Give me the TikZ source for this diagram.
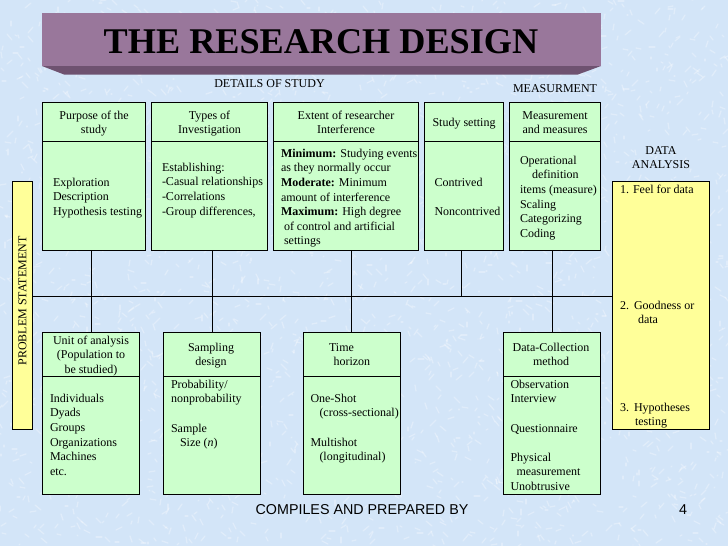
\documentclass[tikz,border=0pt]{standalone}
\usepackage{fontspec}
\setmainfont{Liberation Serif}
\newfontfamily\footfont{Liberation Sans}
\definecolor{bgblue}{HTML}{D3E5F8}
\definecolor{cellgreen}{HTML}{CCFFCC}
\definecolor{celly}{HTML}{FFFF99}
\definecolor{bannerc}{HTML}{99779B}
\definecolor{bannerd}{HTML}{6E5270}
\tikzset{
  cell/.style={draw=black,line width=1pt,fill=cellgreen,inner sep=0pt,outer sep=0pt,anchor=north west},
  ycell/.style={cell,fill=celly},
  wire/.style={draw=black,line width=1pt},
  bodytext/.style={inner sep=0pt,outer sep=0pt,anchor=north west,align=left,yshift=6pt,font=\fontsize{12}{14.6}\selectfont},
  headtext/.style={inner sep=0pt,outer sep=0pt,anchor=north,align=center,yshift=6pt,font=\fontsize{12}{14.6}\selectfont},
  captext/.style={inner sep=0pt,outer sep=0pt,font=\fontsize{12}{14}\selectfont},
  speck/.style={line width=1.3pt,white,opacity=0.3,line cap=round}
}
\begin{document}
\begin{tikzpicture}[x=1pt,y=-1pt]
\useasboundingbox (0,0) rectangle (728,546);
\fill[bgblue] (0,0) rectangle (728,546);
\pgfmathsetseed{4217}
\begin{scope}
\clip (0,0) rectangle (728,546);
\foreach \i in {1,...,2600}{
  \pgfmathsetmacro{\px}{random(0,728)}
  \pgfmathsetmacro{\py}{random(0,546)}
  \pgfmathsetmacro{\dx}{random(-6,6)}
  \pgfmathsetmacro{\dy}{random(-6,6)}
  \draw[speck] (\px,\py) -- ++(\dx,\dy);
}
\end{scope}
% banner
\fill[bannerd] (42,66) -- (64,74.5) -- (578,74.5) -- (601,66) -- cycle;
\node[fill=bannerc,inner sep=0pt,outer sep=0pt,anchor=north west,minimum width=559pt,minimum height=53pt] (banner) at (42,13) {};
\node[inner sep=0pt,font=\fontsize{36.2}{38}\selectfont\bfseries] (title) at (321,42) {THE RESEARCH DESIGN};
\node[captext] (details) at (269.5,84) {DETAILS OF STUDY};
\node[captext] (measur) at (555,89) {MEASURMENT};
% top row
\node[cell,minimum width=103pt,minimum height=38.5pt] (t1h) at (42.5,102.5) {};
\node[cell,minimum width=103pt,minimum height=109pt] (t1b) at (42.5,141) {};
\node[cell,minimum width=116pt,minimum height=38.5pt] (t2h) at (151.5,102.5) {};
\node[cell,minimum width=116pt,minimum height=109pt] (t2b) at (151.5,141) {};
\node[cell,minimum width=145pt,minimum height=38.5pt] (t3h) at (273.5,102.5) {};
\node[cell,minimum width=145pt,minimum height=109pt] (t3b) at (273.5,141) {};
\node[cell,minimum width=79pt,minimum height=38.5pt] (t4h) at (424.5,102.5) {};
\node[cell,minimum width=79pt,minimum height=109pt] (t4b) at (424.5,141) {};
\node[cell,minimum width=91pt,minimum height=38.5pt] (t5h) at (509.5,102.5) {};
\node[cell,minimum width=91pt,minimum height=109pt] (t5b) at (509.5,141) {};
% bottom row
\node[cell,minimum width=97pt,minimum height=44pt] (b1h) at (42.5,332.5) {};
\node[cell,minimum width=97pt,minimum height=118pt] (b1b) at (42.5,376.5) {};
\node[cell,minimum width=97pt,minimum height=44pt] (b2h) at (163.5,332.5) {};
\node[cell,minimum width=97pt,minimum height=118pt] (b2b) at (163.5,376.5) {};
\node[cell,minimum width=97pt,minimum height=44pt] (b3h) at (303.5,332.5) {};
\node[cell,minimum width=97pt,minimum height=118pt] (b3b) at (303.5,376.5) {};
\node[cell,minimum width=97pt,minimum height=44pt] (b4h) at (503.5,332.5) {};
\node[cell,minimum width=97pt,minimum height=118pt] (b4b) at (503.5,376.5) {};
% yellow
\node[ycell,minimum width=20pt,minimum height=248pt] (prob) at (12.5,181) {};
\node[ycell,minimum width=97pt,minimum height=248pt] (anal) at (612.5,181) {};
% connectors
\coordinate (j1) at (91.5,296.5);
\coordinate (j2) at (212.5,296.5);
\coordinate (j3) at (351.5,296.5);
\coordinate (j4) at (461.5,296.5);
\coordinate (j5) at (552.5,296.5);
\draw[wire] (prob.east |- j1) -- (anal.west |- j1);
\draw[wire] (j1 |- t1b.south) -- (j1 |- b1h.north);
\draw[wire] (j2 |- t2b.south) -- (j2 |- b2h.north);
\draw[wire] (j3 |- t3b.south) -- (j3 |- b3h.north);
\draw[wire] (j4 |- t4b.south) -- (j4);
\draw[wire] (j5 |- t5b.south) -- (j5 |- b4h.north);
% headers
\node[headtext] (h1) at (94,115) {\strut Purpose of the\\study};
\node[headtext] (h2) at (209.5,115) {\strut Types of\\Investigation};
\node[headtext] (h3) at (346,115) {\strut Extent of researcher\\Interference};
\node[headtext] (h4) at (464,122) {\strut Study setting};
\node[headtext] (h5) at (555,115) {\strut Measurement\\and measures};
\node[headtext] (h6) at (91,340) {\strut Unit of analysis\\(Population to\\be studied)};
\node[headtext] (h7) at (211,347) {\strut Sampling\\design};
\node[bodytext] (h8) at (329,347) {\strut Time\\\hspace*{4.5pt}horizon};
\node[headtext] (h9) at (551,347) {\strut Data-Collection\\method};
\node[headtext] (h10) at (661,150) {\strut DATA\\ANALYSIS};
% bodies
\node[bodytext] (c1) at (53,182) {\strut Exploration\\Description\\Hypothesis testing};
\node[bodytext] (c2) at (162,167) {\strut Establishing:\\-Casual relationships\\-Correlations\\-Group differences,};
\node[bodytext] (c3) at (281,153) {\strut\textbf{Minimum:} Studying events\\as they normally occur\\\textbf{Moderate:} Minimum\\amount of interference\\\textbf{Maximum:} High degree\\\hspace*{3pt}of control and artificial\\\hspace*{3pt}settings};
\node[bodytext] (c4) at (434.5,182) {\strut Contrived\\[14.6pt]Noncontrived};
\node[bodytext] (c5) at (520,160) {\strut Operational\\\hspace*{12pt}definition\\items (measure)\\Scaling\\Categorizing\\Coding};
\node[bodytext] (d1) at (50,398) {\strut Individuals\\Dyads\\Groups\\Organizations\\Machines\\etc.};
\node[bodytext] (d2) at (171,384) {\strut Probability/\\nonprobability\\[14.6pt]Sample\\\hspace*{9pt}Size (\textit{n})};
\node[bodytext] (d3) at (310.5,398) {\strut One-Shot\\\hspace*{9pt}(cross-sectional)\\[14.6pt]Multishot\\\hspace*{9pt}(longitudinal)};
\node[bodytext] (d4) at (510.5,384) {\strut Observation\\Interview\\[14.6pt]Questionnaire\\[14.6pt]Physical\\\hspace*{6pt}measurement\\Unobtrusive};
\node[bodytext] (e1) at (620,189) {\strut 1. Feel for data};
\node[bodytext] (e2) at (620,305) {\strut 2.\hspace*{5pt}Goodness or\\\hspace*{18pt}data};
\node[bodytext] (e3) at (620,407) {\strut 3.\hspace*{5pt}Hypotheses\\\hspace*{15pt}testing};
\node[captext,rotate=90] (probtext) at (22.5,301) {PROBLEM STATEMENT};
% footer
\node[inner sep=0pt,font=\footfont\fontsize{14.3}{16}\selectfont] (foot) at (362,510) {COMPILES AND PREPARED BY};
\node[inner sep=0pt,font=\footfont\fontsize{14.3}{16}\selectfont] (pageno) at (683,510) {4};
\end{tikzpicture}
\end{document}
